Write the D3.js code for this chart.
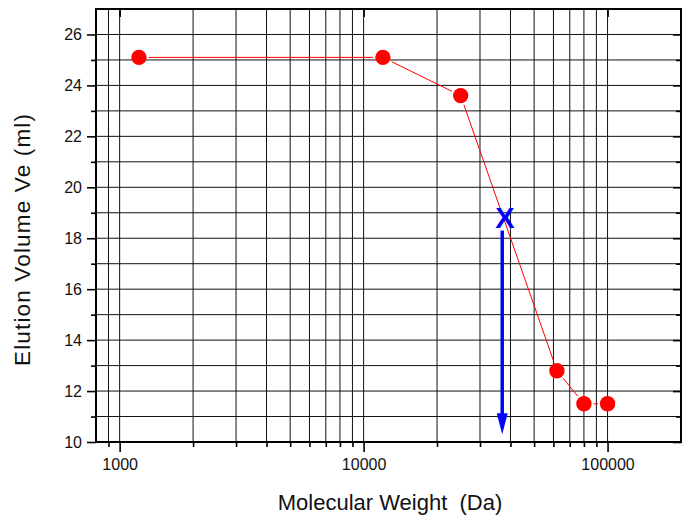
<!DOCTYPE html>
<html>
<head>
<meta charset="utf-8">
<script src="https://cdn.jsdelivr.net/npm/d3@7"></script>
<style>
  html, body { margin: 0; padding: 0; background: #fff; }
  svg { display: block; font-family: "Liberation Sans", Arial, sans-serif; }
</style>
</head>
<body>
<svg id="chart" width="688" height="516"></svg>
<script>
// ---- data ----
const molecularWeight = [1200, 12000, 25000, 62000, 80000, 100000];
const elutionVolume   = [25.1, 25.1, 23.6, 12.8, 11.5, 11.5];
const unknownMW = [38000];
const unknownVe = [18.8];
const arrowMW   = [37000];
const arrowVe   = [18.3, 10.3];
const xMajorTicks = [1000, 10000, 100000];
const xMinorTicks = [900, 2000, 3000, 4000, 5000, 6000, 7000, 8000, 9000,
                     20000, 30000, 40000, 50000, 60000, 70000, 80000, 90000];
const yMajorTicks = [10, 12, 14, 16, 18, 20, 22, 24, 26];
const yMinorTicks = [11, 13, 15, 17, 19, 21, 23, 25];
const xTitle = "Molecular Weight  (Da)";
const yTitle = "Elution Volume Ve (ml)";

// ---- layout ----
const L = 96, R = 681, T = 9, B = 442;
const svg = d3.select("#chart");
const x = d3.scaleLog().domain([800, 200000]).range([L, R]);
const y = d3.scaleLinear().domain([10, 27]).range([B, T]);

// grid
const g = svg.append("g");
const xGrid = xMajorTicks.concat(xMinorTicks);
g.selectAll("line.vg").data(xGrid).enter().append("line")
  .attr("x1", d => x(d)).attr("x2", d => x(d))
  .attr("y1", T).attr("y2", B)
  .attr("stroke", "#111").attr("stroke-width", 1);
const yGrid = yMajorTicks.concat(yMinorTicks);
g.selectAll("line.hg").data(yGrid).enter().append("line")
  .attr("x1", L).attr("x2", R)
  .attr("y1", d => y(d)).attr("y2", d => y(d))
  .attr("stroke", "#111").attr("stroke-width", 1);

// axes
function styleAxis(sel) {
  sel.select(".domain").remove();
  sel.selectAll(".tick line").attr("stroke", "#000").attr("stroke-width", 1.6);
  sel.selectAll(".tick text").attr("fill", "#111").style("font-size", "16px")
     .style("font-family", "'Liberation Sans', Arial, sans-serif");
}
svg.append("g").attr("transform", `translate(${L},0)`)
  .call(d3.axisLeft(y).tickValues(yMajorTicks).tickSize(9).tickPadding(5).tickFormat(d3.format("d")))
  .call(styleAxis);
svg.append("g").attr("transform", `translate(${L},0)`)
  .call(d3.axisLeft(y).tickValues(yMinorTicks).tickSize(5).tickFormat(""))
  .call(styleAxis);
svg.append("g").attr("transform", `translate(0,${B})`)
  .call(d3.axisBottom(x).tickValues(xMajorTicks).tickSize(10).tickPadding(7).tickFormat(d3.format("d")))
  .call(styleAxis);
svg.append("g").attr("transform", `translate(0,${B})`)
  .call(d3.axisBottom(x).tickValues(xMinorTicks).tickSize(5).tickFormat(""))
  .call(styleAxis);
// mirror ticks (inward)
svg.append("g").attr("transform", `translate(${R},0)`)
  .call(d3.axisLeft(y).tickValues(yMajorTicks).tickSize(8).tickFormat(""))
  .call(styleAxis);
svg.append("g").attr("transform", `translate(${R},0)`)
  .call(d3.axisLeft(y).tickValues(yMinorTicks).tickSize(5).tickFormat(""))
  .call(styleAxis);
svg.append("g").attr("transform", `translate(0,${T})`)
  .call(d3.axisBottom(x).tickValues(xMajorTicks).tickSize(8).tickFormat(""))
  .call(styleAxis);

// frame
svg.append("rect").attr("x", L).attr("y", T).attr("width", R - L).attr("height", B - T)
  .attr("fill", "none").attr("stroke", "#000").attr("stroke-width", 2);

// data line with gaps at symbols
const pts = molecularWeight.map((m, i) => [x(m), y(elutionVolume[i])]);
const r = 7.7, gap = 2;
const segs = d3.pairs(pts).map(([a, b]) => {
  const dx = b[0] - a[0], dy = b[1] - a[1], len = Math.hypot(dx, dy);
  const t = (r + gap) / len;
  return [a[0] + dx * t, a[1] + dy * t, b[0] - dx * t, b[1] - dy * t];
});
svg.selectAll("line.seg").data(segs).enter().append("line")
  .attr("x1", d => d[0]).attr("y1", d => d[1]).attr("x2", d => d[2]).attr("y2", d => d[3])
  .attr("stroke", "#ff0000").attr("stroke-width", 1);
svg.selectAll("circle.pt").data(pts).enter().append("circle")
  .attr("cx", d => d[0]).attr("cy", d => d[1]).attr("r", r).attr("fill", "#ff0000");

// unknown sample marker & arrow
const ax = x(arrowMW[0]);
const yTop = y(arrowVe[0]), yTip = y(arrowVe[1]);
svg.append("line").attr("x1", ax).attr("x2", ax).attr("y1", yTop).attr("y2", yTip - 14)
  .attr("stroke", "#0000ff").attr("stroke-width", 3.5);
svg.append("path")
  .attr("d", `M${ax - 5.5},${yTip - 21} L${ax + 5.5},${yTip - 21} L${ax},${yTip} Z`)
  .attr("fill", "#0000ff");
svg.append("text").attr("x", x(unknownMW[0])).attr("y", y(unknownVe[0]))
  .attr("text-anchor", "middle").attr("dy", "0.36em")
  .attr("fill", "#0000ff").style("font-size", "29px").style("font-weight", "bold")
  .text("X");

// titles
svg.append("text").attr("x", 390).attr("y", 510).attr("text-anchor", "middle")
  .attr("xml:space", "preserve").style("white-space", "pre")
  .attr("fill", "#111").style("font-size", "22px").text(xTitle);
svg.append("text").attr("transform", "translate(30,240) rotate(-90)")
  .attr("text-anchor", "middle").attr("fill", "#111").style("font-size", "22.5px")
  .attr("textLength", 252).attr("lengthAdjust", "spacing").text(yTitle);
</script>
</body>
</html>
